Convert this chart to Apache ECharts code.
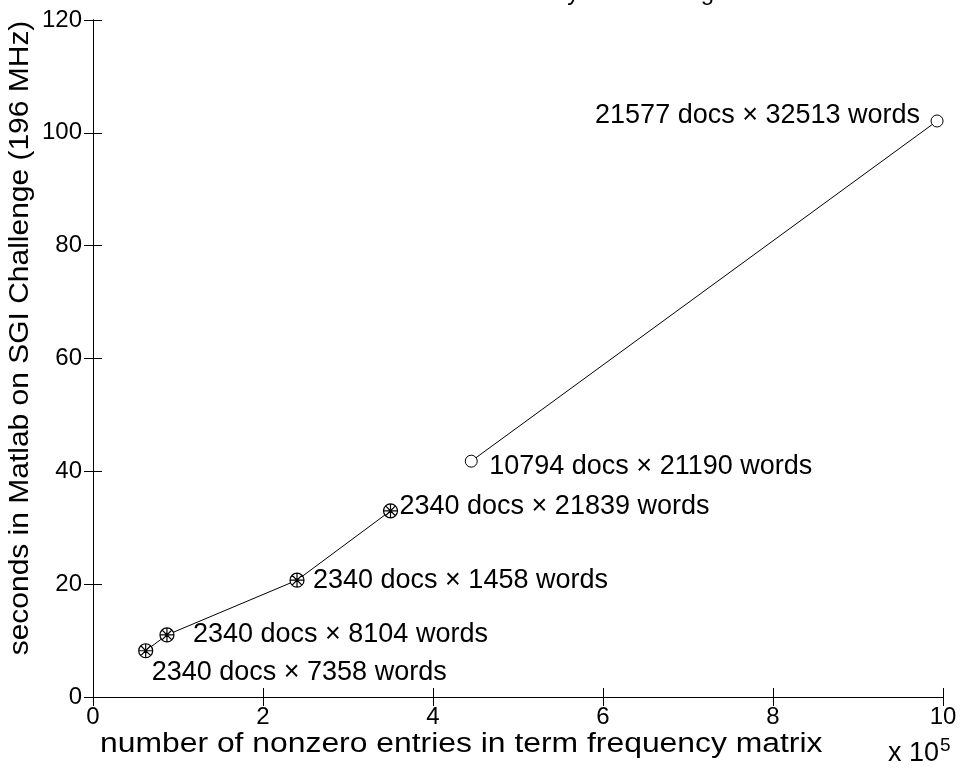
<!DOCTYPE html>
<html>
<head>
<meta charset="utf-8">
<script src="https://cdn.jsdelivr.net/npm/echarts@6/dist/echarts.min.js"></script>
<style>
  html, body { margin: 0; padding: 0; background: #fff; }
  #chart { width: 966px; height: 768px; }
</style>
</head>
<body>
<div id="chart"></div>
<script>
// Term-document matrices processed with the star marker (2340-document collection)
const starNonzeros = [62000, 87000, 240000, 350000];
const starSeconds = [8.2, 11.0, 20.7, 33.0];
const starLabels = [
  '2340 docs \u00d7 7358 words',
  '2340 docs \u00d7 8104 words',
  '2340 docs \u00d7 1458 words',
  '2340 docs \u00d7 21839 words'
];

// Larger collections, drawn with open circles
const circleNonzeros = [445000, 993000];
const circleSeconds = [41.8, 102.1];
const circleLabels = [
  '10794 docs \u00d7 21190 words',
  '21577 docs \u00d7 32513 words'
];

const xTicks = [0, 2, 4, 6, 8, 10];     // in units of 10^5 nonzeros
const yTicks = [0, 20, 40, 60, 80, 100, 120];

const SCALE = 1e5;
const FONT = 'Liberation Sans, Arial, Helvetica, sans-serif';
const LABEL_SIZE = 27;
const TICK_SIZE = 24;
const NAME_SIZE = 27;

// label placement next to each point (text offsets, pixels)
const starLabelPos = [
  { offset: [6, 22], align: 'left' },
  { offset: [26, 0], align: 'left' },
  { offset: [16, 0], align: 'left' },
  { offset: [9, -4], align: 'left' }
];
const circleLabelPos = [
  { offset: [18, 5], align: 'left' },
  { offset: [-17, -5], align: 'right' }
];

function buildPoints(xs, ys, names, pos) {
  return xs.map((x, i) => ({
    value: [x / SCALE, ys[i]],
    name: names[i],
    label: {
      show: true,
      position: 'inside',
      align: pos[i].align,
      verticalAlign: 'middle',
      offset: pos[i].offset,
      formatter: names[i],
      color: '#000',
      fontFamily: FONT,
      fontSize: LABEL_SIZE
    }
  }));
}

// circle with an asterisk inside
const starSymbol = 'path://M0,-10A10,10,0,1,1,0,10A10,10,0,1,1,0,-10Z' +
  'M-10,0L10,0M0,-10L0,10M-7.07,-7.07L7.07,7.07M-7.07,7.07L7.07,-7.07';

const chart = echarts.init(document.getElementById('chart'), null, { renderer: 'canvas' });

const axisCommon = {
  type: 'value',
  axisLine: { show: true, lineStyle: { color: '#000', width: 1 } },
  axisTick: { show: true, inside: true, length: 9, lineStyle: { color: '#000', width: 1 } },
  splitLine: { show: false }
};

chart.setOption({
  animation: false,
  backgroundColor: '#fff',
  grid: { left: 93, right: 23, top: 20, bottom: 71, containLabel: false },
  xAxis: [
    Object.assign({}, axisCommon, {
      position: 'bottom',
      min: xTicks[0], max: xTicks[xTicks.length - 1], interval: 2,
      axisLabel: { color: '#000', fontFamily: FONT, fontSize: TICK_SIZE, margin: 8 }
    }),
    Object.assign({}, axisCommon, {
      position: 'top',
      min: xTicks[0], max: xTicks[xTicks.length - 1], interval: 2,
      axisLabel: { show: false }
    })
  ],
  yAxis: [
    Object.assign({}, axisCommon, {
      position: 'left',
      min: yTicks[0], max: yTicks[yTicks.length - 1], interval: 20,
      axisLabel: { color: '#000', fontFamily: FONT, fontSize: TICK_SIZE, margin: 11 }
    }),
    Object.assign({}, axisCommon, {
      position: 'right',
      min: yTicks[0], max: yTicks[yTicks.length - 1], interval: 20,
      axisLabel: { show: false }
    })
  ],
  series: [
    {
      type: 'line',
      data: buildPoints(starNonzeros, starSeconds, starLabels, starLabelPos),
      symbol: starSymbol,
      symbolSize: 14,
      showAllSymbol: true,
      lineStyle: { color: '#000', width: 1 },
      itemStyle: { color: '#fff', borderColor: '#000', borderWidth: 1.2 },
      z: 3
    },
    {
      type: 'line',
      data: buildPoints(circleNonzeros, circleSeconds, circleLabels, circleLabelPos),
      symbol: 'circle',
      symbolSize: 12,
      showAllSymbol: true,
      lineStyle: { color: '#000', width: 1 },
      itemStyle: { color: '#fff', borderColor: '#000', borderWidth: 1 },
      z: 3
    }
  ],
  graphic: [
    {
      type: 'text',
      x: 518, y: 5,
      style: {
        text: 'Execution times of the SVD by Lanczos algorithm',
        fill: '#000', font: '24px ' + FONT,
        textAlign: 'center', textVerticalAlign: 'bottom'
      }
    },
    {
      type: 'text',
      x: 100, y: 745,
      scaleX: 1.18,
      style: {
        text: 'number of nonzero entries in term frequency matrix',
        fill: '#000', font: NAME_SIZE + 'px ' + FONT,
        textAlign: 'left', textVerticalAlign: 'middle'
      }
    },
    {
      type: 'text',
      x: 21, y: 338,
      rotation: Math.PI / 2,
      scaleX: 1.11,
      style: {
        text: 'seconds in Matlab on SGI Challenge (196 MHz)',
        fill: '#000', font: NAME_SIZE + 'px ' + FONT,
        textAlign: 'center', textVerticalAlign: 'middle'
      }
    },
    {
      type: 'text',
      x: 888, y: 771,
      style: {
        text: 'x 10{sup|5}',
        fill: '#000', font: '27px ' + FONT,
        textAlign: 'left', textVerticalAlign: 'bottom',
        rich: {
          sup: { fontSize: 19, fontFamily: FONT, fill: '#000', verticalAlign: 'top', padding: [0, 0, 16, 1] }
        }
      }
    }
  ]
});
</script>
</body>
</html>
